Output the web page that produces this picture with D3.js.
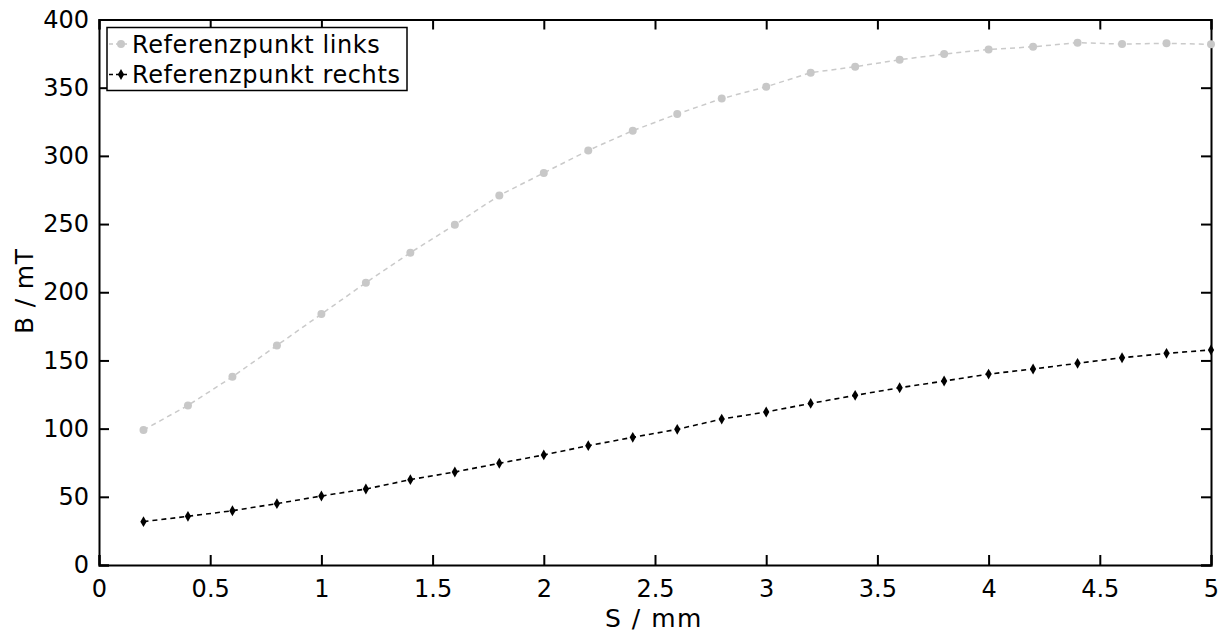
<!DOCTYPE html>
<html>
<head>
<meta charset="utf-8">
<script src="https://d3js.org/d3.v7.min.js"></script>
<style>
  body { margin: 0; background: #fff; }
  svg { display: block; font-family: "DejaVu Sans", sans-serif; }
</style>
</head>
<body>
<svg id="chart" width="1226" height="637"></svg>
<script>
// Weg in mm
var weg = [0.2, 0.4, 0.6, 0.8, 1.0, 1.2, 1.4, 1.6, 1.8, 2.0, 2.2, 2.4, 2.6,
           2.8, 3.0, 3.2, 3.4, 3.6, 3.8, 4.0, 4.2, 4.4, 4.6, 4.8, 5.0];

// Flussdichte in mT
var links = [99, 117, 138, 161, 184, 207, 229, 249.5, 271, 287.5, 304, 318.5, 330.7,
             342, 350.7, 361, 365.4, 370.5, 374.7, 378, 380, 383, 382, 382.5, 381.8];
var rechts = [31.8, 35.7, 39.8, 45, 50.6, 55.7, 62.6, 68.2, 74.6, 80.7, 87.5, 93.6, 99.5,
              107, 112.2, 118.5, 124.4, 130, 134.9, 140, 143.7, 147.9, 152, 155.2, 157.7];

var xTicks = [0, 0.5, 1, 1.5, 2, 2.5, 3, 3.5, 4, 4.5, 5];
var yTicks = [0, 50, 100, 150, 200, 250, 300, 350, 400];

var svg = d3.select("#chart");
var mLeft = 99, mRight = 1211, mTop = 19.5, mBottom = 565;

var x = d3.scaleLinear().domain([0, 5]).range([mLeft, mRight]);
var y = d3.scaleLinear().domain([0, 400]).range([mBottom, mTop]);

var fmt = function (d) { return String(d); };
var styleAxis = function (g) {
    g.attr("font-family", "DejaVu Sans, sans-serif").attr("font-size", 24);
    g.selectAll("text").attr("fill", "#000");
};

// Achsen mit Ticks nach innen
svg.append("g")
    .attr("transform", "translate(0," + mBottom + ")")
    .call(d3.axisBottom(x).tickValues(xTicks).tickSize(-10).tickPadding(15).tickFormat(fmt))
    .call(styleAxis);

svg.append("g")
    .attr("transform", "translate(0," + mTop + ")")
    .call(d3.axisTop(x).tickValues(xTicks).tickSize(-10).tickFormat(""));

svg.append("g")
    .attr("transform", "translate(" + mLeft + ",0)")
    .call(d3.axisLeft(y).tickValues(yTicks).tickSize(-10).tickPadding(10).tickFormat(fmt))
    .call(styleAxis);

svg.append("g")
    .attr("transform", "translate(" + mRight + ",0)")
    .call(d3.axisRight(y).tickValues(yTicks).tickSize(-10).tickFormat(""));

svg.selectAll(".domain, .tick line").attr("stroke", "#000").attr("stroke-width", 2);

// Achsenbeschriftung
svg.append("text")
    .attr("x", 654)
    .attr("y", 627)
    .attr("text-anchor", "middle")
    .attr("font-size", 25)
    .attr("letter-spacing", 1.5)
    .text("S / mm");

svg.append("text")
    .attr("transform", "translate(33," + 291 + ") rotate(-90)")
    .attr("text-anchor", "middle")
    .attr("font-size", 25)
    .attr("letter-spacing", 0.8)
    .text("B / mT");

var line = d3.line()
    .x(function (d, i) { return x(weg[i]); })
    .y(function (d) { return y(d); });

// Referenzpunkt links (grau)
svg.append("path")
    .datum(links)
    .attr("fill", "none")
    .attr("stroke", "#cacaca")
    .attr("stroke-width", 1.5)
    .attr("stroke-dasharray", "5,4")
    .attr("d", line);

svg.selectAll(".pl")
    .data(links)
    .enter().append("circle")
    .attr("cx", function (d, i) { return x(weg[i]); })
    .attr("cy", function (d) { return y(d); })
    .attr("r", 4)
    .attr("fill", "#c8c8c8");

// Referenzpunkt rechts (schwarz)
svg.append("path")
    .datum(rechts)
    .attr("fill", "none")
    .attr("stroke", "#000")
    .attr("stroke-width", 1.6)
    .attr("stroke-dasharray", "5,4")
    .attr("d", line);

svg.selectAll(".pr")
    .data(rechts)
    .enter().append("path")
    .attr("transform", function (d, i) { return "translate(" + x(weg[i]) + "," + y(d) + ")"; })
    .attr("d", d3.symbol().type(d3.symbolDiamond).size(34))
    .attr("fill", "#000");

// Legende
var lg = svg.append("g");
lg.append("rect")
    .attr("x", 107).attr("y", 27.5)
    .attr("width", 300).attr("height", 63)
    .attr("fill", "#fff").attr("stroke", "#000").attr("stroke-width", 1.5);

var items = [
    { name: "Referenzpunkt links", color: "#c8c8c8", dot: "circle" },
    { name: "Referenzpunkt rechts", color: "#000", dot: "diamond" }
];
items.forEach(function (it, i) {
    var cy = 44 + i * 30.5;
    lg.append("line")
        .attr("x1", 109).attr("x2", 127).attr("y1", cy).attr("y2", cy)
        .attr("stroke", it.color).attr("stroke-width", 1.5).attr("stroke-dasharray", "4,3");
    if (it.dot === "circle") {
        lg.append("circle").attr("cx", 121).attr("cy", cy).attr("r", 4).attr("fill", it.color);
    } else {
        lg.append("path")
            .attr("transform", "translate(121," + cy + ")")
            .attr("d", d3.symbol().type(d3.symbolDiamond).size(34))
            .attr("fill", it.color);
    }
    lg.append("text")
        .attr("x", 132).attr("y", cy + 8.7)
        .attr("font-size", 24)
        .attr("letter-spacing", 0.6)
        .text(it.name);
});
</script>
</body>
</html>
